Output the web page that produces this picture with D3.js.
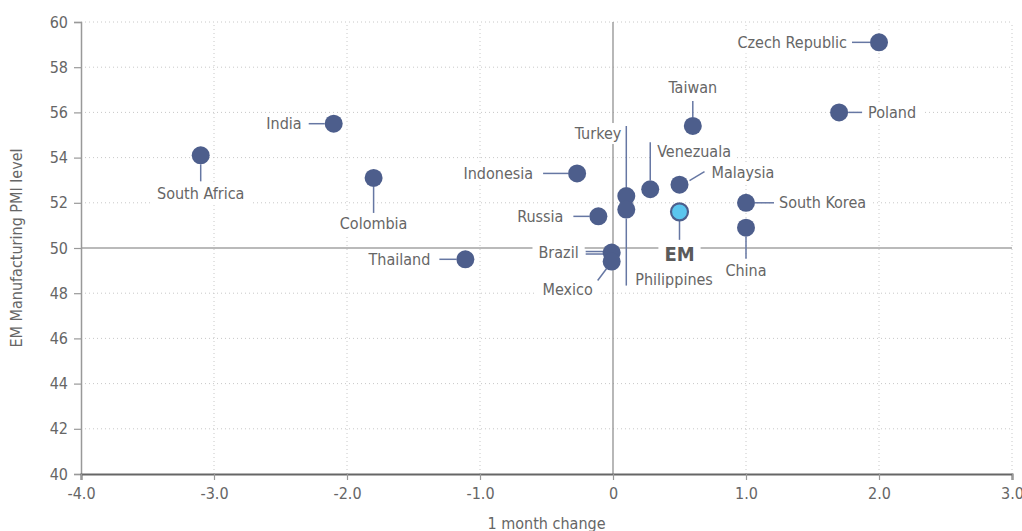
<!DOCTYPE html>
<html><head><meta charset="utf-8">
<script src="https://cdn.jsdelivr.net/npm/d3@7"></script>
<style>
body{margin:0;background:#fff;}
svg text{font-family:"Liberation Sans Narrow","DejaVu Sans Condensed","Roboto",sans-serif;}
</style></head>
<body><svg id="c" width="1022" height="531"></svg>
<script>
// ---- data ----
const countries = ["Czech Republic","Poland","Taiwan","India","South Africa","Colombia","Indonesia","Turkey","Venezuala","Malaysia","Philippines","Russia","EM","South Korea","China","Thailand","Brazil","Mexico"];
const change = [2.0, 1.7, 0.6, -2.1, -3.1, -1.8, -0.27, 0.1, 0.28, 0.5, 0.1, -0.11, 0.5, 1.0, 1.0, -1.11, -0.01, -0.01];
const pmi    = [59.1, 56.0, 55.4, 55.5, 54.1, 53.1, 53.3, 52.3, 52.6, 52.8, 51.7, 51.4, 51.6, 52.0, 50.9, 49.5, 49.8, 49.4];
const xTicks = [-4,-3,-2,-1,0,1,2,3];
const xTickLabels = ["-4.0","-3.0","-2.0","-1.0","0","1.0","2.0","3.0"];
const yTicks = [40,42,44,46,48,50,52,54,56,58,60];

// label layout (pixel offsets from the marker): text position, anchor, connector segments
const labelLayout = {
  "Czech Republic":{tx:-32,ty:0,a:"end",lines:[[-27,0,-9,0]]},
  "Poland":{tx:29,ty:0,a:"start",lines:[[9,0,23,0]]},
  "Taiwan":{tx:0,ty:-39,a:"middle",lines:[[0,-25,0,-9]]},
  "India":{tx:-32,ty:0,a:"end",lines:[[-25,0,-9,0]]},
  "South Africa":{tx:0,ty:38,a:"middle",lines:[[0,9,0,26]]},
  "Colombia":{tx:0,ty:45,a:"middle",lines:[[0,9,0,35]]},
  "Indonesia":{tx:-44,ty:0,a:"end",lines:[[-34,0,-9,0]]},
  "Turkey":{tx:-5,ty:-63,a:"end",lines:[[0,-70,0,-9]]},
  "Venezuala":{tx:7,ty:-38,a:"start",lines:[[0,-47,0,-9]]},
  "Malaysia":{tx:32,ty:-12,a:"start",lines:[[10,-4,25,-13]]},
  "Philippines":{tx:9,ty:70,a:"start",lines:[[0,9,0,76]]},
  "Russia":{tx:-35,ty:0,a:"end",lines:[[-25,0,-9,0]]},
  "EM":{tx:0,ty:42,a:"middle",lines:[[0,9,0,28]],bold:true},
  "South Korea":{tx:33,ty:0,a:"start",lines:[[9,0,28,0]]},
  "China":{tx:0,ty:43,a:"middle",lines:[[0,9,0,31]]},
  "Thailand":{tx:-35,ty:0,a:"end",lines:[[-26,0,-9,0]]},
  "Brazil":{tx:-33,ty:0,a:"end",lines:[[-26,-1,-8,-1],[-26,1.5,-8,1.5]]},
  "Mexico":{tx:-44,ty:28,a:"middle",lines:[[-14,19,-5,7]]}
};

const W=1022,H=531;
const m={l:81,r:10,t:22,b:57};
const svg=d3.select("#c");
const x=d3.scaleLinear().domain([-4,3]).range([m.l,W-m.r]);
const y=d3.scaleLinear().domain([40,60]).range([H-m.b,m.t]);
const textCol="#666";
const FS=16;

// grid
const g=svg.append("g");
g.selectAll(".vg").data(xTicks.filter(d=>d!==-4&&d!==0)).join("line")
 .attr("x1",d=>x(d)).attr("x2",d=>x(d)).attr("y1",y(40)).attr("y2",y(60))
 .attr("stroke","#c8c8c8").attr("stroke-width",1).attr("stroke-dasharray","1,3");
g.selectAll(".hg").data(yTicks.filter(d=>d!==40&&d!==50)).join("line")
 .attr("x1",x(-4)).attr("x2",x(3)).attr("y1",d=>y(d)).attr("y2",d=>y(d))
 .attr("stroke","#c8c8c8").attr("stroke-width",1).attr("stroke-dasharray","1,3");
// reference lines
g.append("line").attr("x1",x(-4)).attr("x2",x(3)).attr("y1",y(50)).attr("y2",y(50)).attr("stroke","#777").attr("stroke-width",1.2);
g.append("line").attr("x1",x(0)).attr("x2",x(0)).attr("y1",y(40)).attr("y2",y(60)).attr("stroke","#888").attr("stroke-width",1.2);

// axes
const yAxis=svg.append("g").attr("transform",`translate(${m.l},0)`)
 .call(d3.axisLeft(y).tickValues(yTicks).tickSize(7).tickPadding(6));
const xAxis=svg.append("g").attr("transform",`translate(0,${y(40)})`)
 .call(d3.axisBottom(x).tickValues(xTicks).tickFormat((d,i)=>xTickLabels[i]).tickSize(6).tickPadding(8));
yAxis.select(".domain").attr("stroke","#999").attr("stroke-width",1.5);
xAxis.select(".domain").attr("stroke","#666").attr("stroke-width",2);
[xAxis,yAxis].forEach(a=>{
  a.selectAll(".tick line").attr("stroke","#999").attr("stroke-width",1.2);
  a.selectAll(".tick text").attr("fill",textCol).attr("font-size",FS)
   .style("font-family",'"Liberation Sans Narrow","DejaVu Sans Condensed",sans-serif');
});

// axis titles
svg.append("text").attr("x",(x(-4)+x(3))/2).attr("y",529).attr("text-anchor","middle")
 .attr("fill",textCol).attr("font-size",FS).text("1 month change");
svg.append("text").attr("transform",`translate(22,${y(50)}) rotate(-90)`).attr("text-anchor","middle")
 .attr("fill",textCol).attr("font-size",FS).text("EM Manufacturing PMI level");

// labels
const pts=countries.map((c,i)=>({name:c,cx:x(change[i]),cy:y(pmi[i]),L:labelLayout[c]}));
const lab=svg.append("g");
pts.forEach(p=>{
  const t=lab.append("text").attr("x",p.cx+p.L.tx).attr("y",p.cy+p.L.ty).attr("dy","0.35em")
   .attr("text-anchor",p.L.a).attr("fill",p.L.bold?"#5a5a5a":textCol)
   .attr("font-size",p.L.bold?20:FS).attr("font-weight",p.L.bold?"bold":"normal").text(p.name);
  const bb=t.node().getBBox();
  lab.insert("rect","text").attr("x",bb.x-6).attr("y",p.cy+p.L.ty-10).attr("width",bb.width+12).attr("height",21).attr("fill","#fff");
});
lab.selectAll("text").raise();

// connectors
const con=svg.append("g");
pts.forEach(p=>{
  p.L.lines.forEach(s=>{
    con.append("line").attr("x1",p.cx+s[0]).attr("y1",p.cy+s[1]).attr("x2",p.cx+s[2]).attr("y2",p.cy+s[3])
     .attr("stroke","#6677a3").attr("stroke-width",1.5);
  });
});

// markers
svg.append("g").selectAll("circle").data(pts).join("circle")
 .attr("cx",d=>d.cx).attr("cy",d=>d.cy).attr("r",d=>d.name==="EM"?8.5:9)
 .attr("fill",d=>d.name==="EM"?"#5bc5ee":"#4d5e8c")
 .attr("stroke",d=>d.name==="EM"?"#4d5e8c":"none").attr("stroke-width",2.2);
</script></body></html>
